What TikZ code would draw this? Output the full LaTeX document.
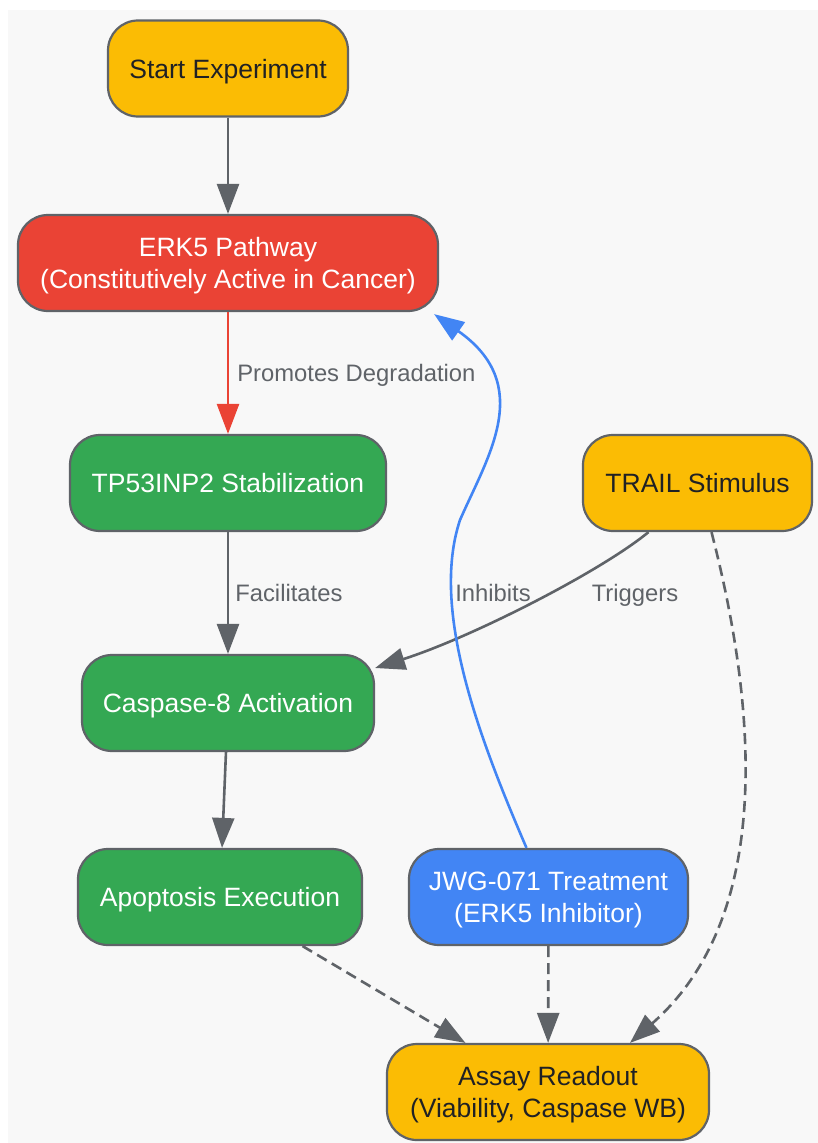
\documentclass[tikz,border=0pt]{standalone}
\usepackage{fontspec}
\setmainfont{Liberation Sans}
\usetikzlibrary{arrows.meta}
\definecolor{canvas}{HTML}{F8F8F8}
\definecolor{gold}{HTML}{FBBC04}
\definecolor{alarm}{HTML}{EA4335}
\definecolor{leaf}{HTML}{34A853}
\definecolor{azure}{HTML}{4285F4}
\definecolor{edgegray}{HTML}{5F6368}
\definecolor{ink}{HTML}{202124}
\tikzset{
  box/.style={draw=edgegray, line width=2.2pt, rounded corners=30pt, minimum height=96pt,
    inner xsep=12pt, text depth=-1pt, align=center, text=white, font=\fontsize{26.5pt}{32pt}\selectfont},
  flow/.style={draw=edgegray, line width=2.6pt, -{Triangle[length=30pt,width=22pt]}},
  weak/.style={flow, dash pattern=on 11pt off 6pt},
  lbl/.style={text=edgegray, text depth=0pt, inner xsep=8pt, font=\fontsize{23.8pt}{28pt}\selectfont}
}

\begin{document}
\begin{tikzpicture}[auto, x=1pt, y=-1pt]
      \useasboundingbox (0,0) rectangle (818,1143);
      \fill[canvas] (8,10) rectangle (818,1143);

      \node[box, fill=gold, text=ink, minimum width=240pt] (Start) at (228,68.5) {Start Experiment};
      \node[box, fill=alarm, minimum width=420pt] (ERK) at (228,263) {ERK5 Pathway\\(Constitutively Active in Cancer)};
      \node[box, fill=leaf, minimum width=316pt] (TPI) at (228,483) {TP53INP2 Stabilization};
      \node[box, fill=gold, text=ink, minimum width=229pt] (Trail) at (697.5,483) {TRAIL Stimulus};
      \node[box, fill=leaf, minimum width=292pt] (CaspE) at (228,703) {Caspase-8 Activation};
      \node[box, fill=leaf, minimum width=284pt] (Apop) at (220,897) {Apoptosis Execution};
      \node[box, fill=azure, minimum width=279pt] (JWG) at (548.5,897) {JWG-071 Treatment\\(ERK5 Inhibitor)};
      \node[box, fill=gold, text=ink, minimum width=322pt] (Assay) at (548,1092) {Assay Readout\\(Viability, Caspase WB)};

      \node[lbl] (inhib) at (493,593) {Inhibits};
      \node[lbl] (trig) at (635,593) {Triggers};

      \draw[flow] (Start) to (ERK);
      \draw[flow, draw=alarm] (ERK) to node[lbl]{Promotes Degradation}(TPI);
      \draw[flow] (TPI) to node[lbl, inner xsep=6pt]{Facilitates}(CaspE);
      \draw[flow] ([xshift=-49pt]Trail.south) .. controls (600,572) and (470,638) .. ([yshift=35pt]CaspE.east);
      \draw[flow] (CaspE) to (Apop);
      \draw[flow, draw=azure] ([xshift=-22pt]JWG.north) .. controls (480,740) and (430,610) .. (460,520)
        .. controls (488,456) and (535,385) .. ([xshift=-5pt,yshift=-2pt]ERK.south east);
      \draw[weak] (Apop) to (Assay);
      \draw[weak] (JWG) to (Assay);
      \draw[weak] ([xshift=14pt]Trail.south) .. controls (760,720) and (770,920) .. ([xshift=82pt]Assay.north);
    \end{tikzpicture}
\end{document}
